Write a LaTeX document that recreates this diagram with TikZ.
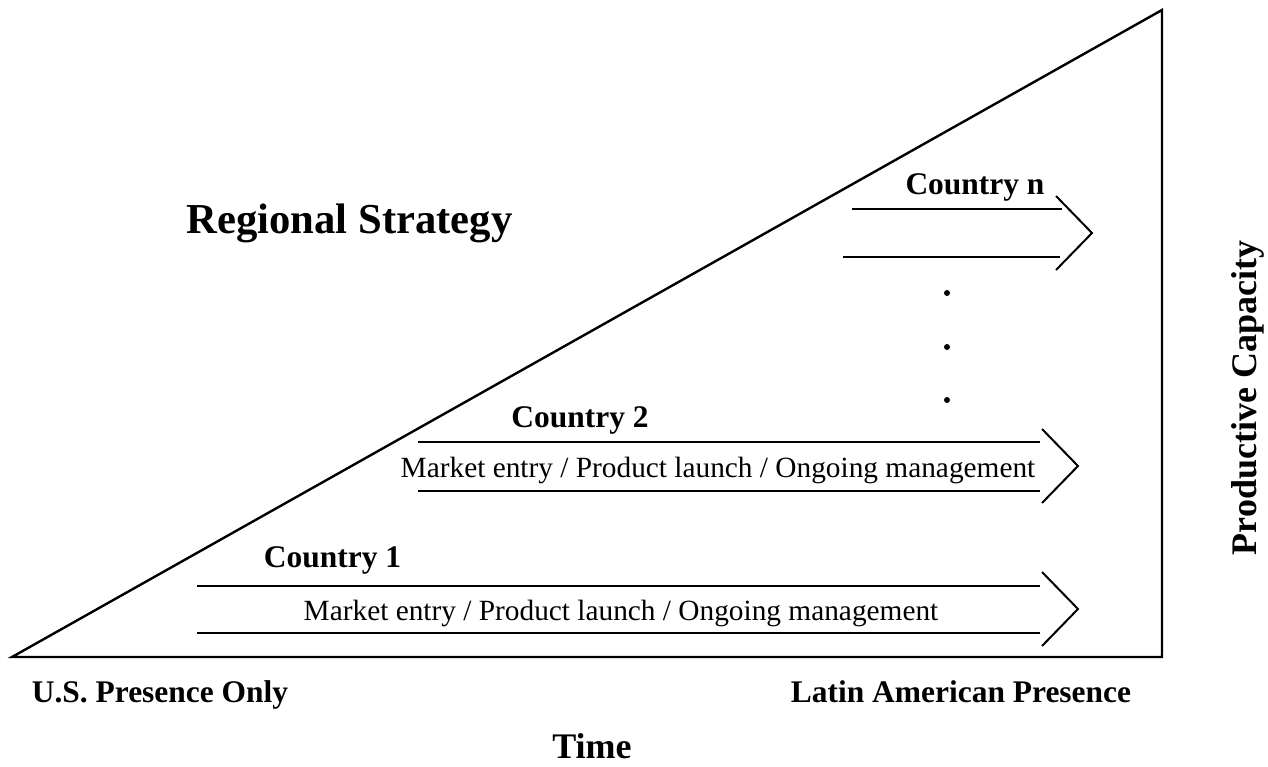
\documentclass[tikz,border=0pt]{standalone}
\usepackage{fontspec}
\setmainfont{Liberation Serif}
\begin{document}
\begin{tikzpicture}[x=0.75pt,y=-0.75pt,
  edge/.style={line width=1.5pt},
  chev/.style={line width=1.5pt, line join=miter},
  tri/.style={line width=1.8pt, line join=miter},
  lbl/.style={font=\fontsize{23.6}{26}\selectfont\bfseries, anchor=base, inner sep=0pt},
  big/.style={font=\fontsize{32}{36}\selectfont\bfseries, anchor=base, inner sep=0pt},
  axis/.style={font=\fontsize{27}{30}\selectfont\bfseries, anchor=base, inner sep=0pt},
  body/.style={font=\fontsize{22}{25}\selectfont, anchor=base, inner sep=0pt},
  dot/.style={circle, fill=black, inner sep=0pt, minimum size=4.5pt}]
\useasboundingbox (0,0) rectangle (1268,767);

% triangle
\coordinate (bl) at (12,657);
\coordinate (br) at (1162,657);
\coordinate (tp) at (1162,10);
\draw[tri] (bl) -- (br) -- (tp) -- cycle;

% Country n arrow
\coordinate (na1) at (852,209); \coordinate (na2) at (1062,209);
\coordinate (nb1) at (843,257); \coordinate (nb2) at (1060,257);
\draw[edge] (na1) -- (na2);
\draw[edge] (nb1) -- (nb2);
\draw[chev] (1056,196) -- (1092,233) -- (1056,270);

% Country 2 arrow
\coordinate (ta1) at (418,442); \coordinate (ta2) at (1040,442);
\coordinate (tb1) at (418,491); \coordinate (tb2) at (1040,491);
\draw[edge] (ta1) -- (ta2);
\draw[edge] (tb1) -- (tb2);
\draw[chev] (1042,429) -- (1078,466) -- (1042,503);

% Country 1 arrow
\coordinate (oa1) at (197,586); \coordinate (oa2) at (1040,586);
\coordinate (ob1) at (197,633); \coordinate (ob2) at (1040,633);
\draw[edge] (oa1) -- (oa2);
\draw[edge] (ob1) -- (ob2);
\draw[chev] (1042,572) -- (1078,609) -- (1042,646);

% dots
\node[dot] (d1) at (947,293) {};
\node[dot] (d2) at (947,347) {};
\node[dot] (d3) at (947,400) {};

% labels
\node[big] (title) at (349.5,233) {Regional Strategy};
\node[lbl] (cn) at (975,195) {Country n};
\node[lbl] (c2) at (580,427) {Country 2};
\node[lbl] (c1) at (332.5,567) {Country 1};
\node[body] (m2) at (718,477) {Market entry / Product launch / Ongoing management};
\node[body] (m1) at (621,620) {Market entry / Product launch / Ongoing management};
\node[lbl] (us) at (160,702) {U.S. Presence Only};
\node[lbl] (la) at (961,702) {Latin American Presence};
\node[axis] (time) at (592,758) {Time};
\node[axis, rotate=90] (pc) at (1256,398) {Productive Capacity};
\end{tikzpicture}
\end{document}
